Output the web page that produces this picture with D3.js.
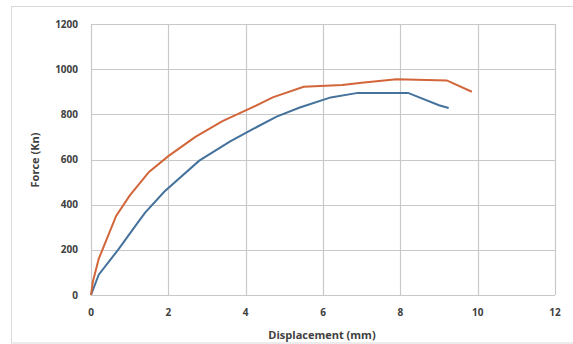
<!DOCTYPE html>
<html>
<head>
<meta charset="utf-8">
<script src="https://cdn.jsdelivr.net/npm/d3@7"></script>
<style>
  body { margin: 0; background: #fff; }
  svg { display: block; font-family: "Open Sans", "Liberation Sans", sans-serif; }
</style>
</head>
<body>
<svg id="chart" width="573" height="344"></svg>
<script>
// force-displacement curves
const orangeX = [0, 0.05, 0.2, 0.65, 1, 1.5, 2, 2.7, 3.4, 4.1, 4.7, 5.5, 6.5, 7, 7.9, 9.2, 9.85]
const orangeY = [0, 60, 160, 350, 440, 545, 615, 700, 770, 825, 875, 922, 930, 940, 955, 950, 900]
const blueX = [0, 0.2, 0.7, 1.2, 1.4, 1.9, 2.8, 3.6, 4.3, 4.8, 5.4, 6.2, 6.9, 8.2, 9.0, 9.25]
const blueY = [0, 90, 200, 318, 365, 458, 595, 680, 745, 790, 830, 875, 895, 895, 840, 828]
const xTicks = [0, 2, 4, 6, 8, 10, 12]
const yTicks = [0, 200, 400, 600, 800, 1000, 1200]

const svg = d3.select('#chart')
const plotLeft = 91, plotRight = 555, plotTop = 24, plotBottom = 295

// outer frame
svg.append('rect')
  .attr('x', 11.5).attr('y', 6.5)
  .attr('width', 600).attr('height', 336.5)
  .style('fill', 'none').style('stroke', '#d9d9d9')

const x = d3.scaleLinear().domain([0, 12]).range([plotLeft, plotRight])
const y = d3.scaleLinear().domain([0, 1200]).range([plotBottom, plotTop])

// grid
svg.append('g').selectAll('line').data(yTicks).join('line')
  .attr('x1', plotLeft).attr('x2', plotRight)
  .attr('y1', d => Math.round(y(d)) + 0.5).attr('y2', d => Math.round(y(d)) + 0.5)
  .style('stroke', '#c8c8c8').style('stroke-width', 1.2)
svg.append('g').selectAll('line').data(xTicks).join('line')
  .attr('y1', plotTop).attr('y2', plotBottom)
  .attr('x1', d => Math.round(x(d)) + 0.5).attr('x2', d => Math.round(x(d)) + 0.5)
  .style('stroke', '#c8c8c8').style('stroke-width', 1.2)

// tick labels
svg.append('g').selectAll('text').data(yTicks).join('text')
  .attr('x', 78).attr('y', d => y(d) + 3.5)
  .attr('text-anchor', 'end')
  .style('font-size', '10px').style('font-weight', 'bold').style('fill', '#404040')
  .text(d => d)
svg.append('g').selectAll('text').data(xTicks).join('text')
  .attr('x', d => x(d)).attr('y', 316)
  .attr('text-anchor', 'middle')
  .style('font-size', '10px').style('font-weight', 'bold').style('fill', '#404040')
  .text(d => d)

// axis titles
svg.append('text')
  .attr('transform', 'translate(39,160) rotate(-90)')
  .attr('text-anchor', 'middle')
  .style('font-size', '11px').style('font-weight', 'bold').style('fill', '#404040')
  .text('Force (Kn)')
svg.append('text')
  .attr('x', 322).attr('y', 339)
  .attr('text-anchor', 'middle')
  .style('font-size', '11px').style('font-weight', 'bold').style('fill', '#404040')
  .text('Displacement (mm)')

const line = d3.line().x(d => x(d[0])).y(d => y(d[1]))

svg.append('path')
  .datum(blueX.map((v, i) => [v, blueY[i]]))
  .attr('d', line)
  .style('fill', 'none').style('stroke', '#44729c').style('stroke-width', 2)

svg.append('path')
  .datum(orangeX.map((v, i) => [v, orangeY[i]]))
  .attr('d', line)
  .style('fill', 'none').style('stroke', '#d2653a').style('stroke-width', 2)
</script>
</body>
</html>
